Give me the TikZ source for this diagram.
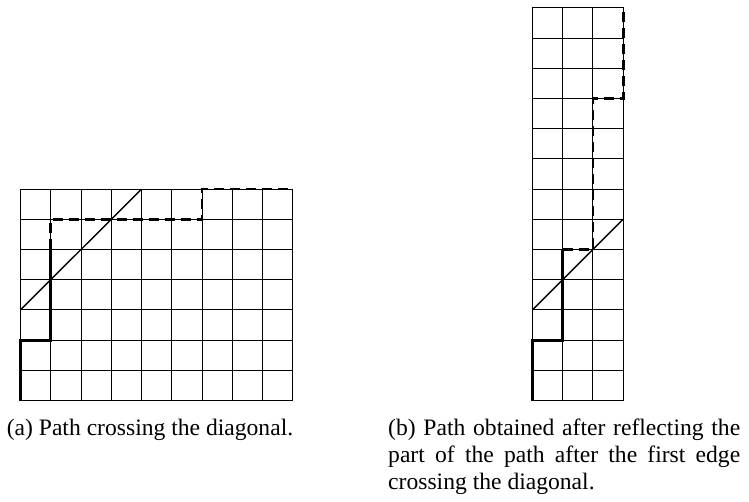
\documentclass[tikz,border=0pt]{standalone}
\usepackage{fontspec}
\setmainfont{Liberation Serif}
\begin{document}
\begin{tikzpicture}[x=1pt,y=1pt,
  gridline/.style={line width=1pt, black},
  diagline/.style={line width=1.4pt, black},
  solidpath/.style={line width=2.8pt, black, line join=miter},
  dashpath/.style={line width=2.8pt, black, dash pattern=on 10pt off 6pt},
  captext/.style={inner sep=0pt, font=\fontsize{23.6}{27}\selectfont}]
\useasboundingbox (0,0) rectangle (749,501);
% left grid
\begin{scope}[shift={(20.5pt,100.5pt)}, x=30.25pt, y=30.2pt]
  \foreach \i in {0,...,9} \draw[gridline] (\i,0) -- (\i,7);
  \foreach \j in {0,...,7} \draw[gridline] (0,\j) -- (9,\j);
  \draw[gridline] (0,0) rectangle (9,7);
  \draw[diagline] (0,3) -- (4,7);
  \draw[solidpath] (0,0) -- (0,2) -- (1,2) -- (1,5);
  \draw[dashpath] (1,5) -- (1,6) -- (6,6) -- (6,7) -- (9,7);
\end{scope}
% right grid
\begin{scope}[shift={(532.5pt,100.5pt)}, x=30.2pt, y=30.2pt]
  \foreach \i in {0,...,3} \draw[gridline] (\i,0) -- (\i,13);
  \foreach \j in {0,...,13} \draw[gridline] (0,\j) -- (3,\j);
  \draw[gridline] (0,0) rectangle (3,13);
  \draw[diagline] (0,3) -- (3,6);
  \draw[solidpath] (0,0) -- (0,2) -- (1,2) -- (1,5);
  \draw[dashpath] (1,5) -- (2,5) -- (2,10) -- (3,10) -- (3,13);
\end{scope}
% captions
\node[captext, anchor=base] (capa) at (150,66) {(a) Path crossing the diagonal.};
\node[captext, anchor=base west] (capb) at (388,66) {\parbox[t]{352pt}{\fontsize{23.6}{27}\selectfont
  \makebox[352pt][s]{(b) Path obtained after reflecting the}\\
  \makebox[352pt][s]{part of the path after the first edge}\\
  crossing the diagonal.}};
\end{tikzpicture}
\end{document}
